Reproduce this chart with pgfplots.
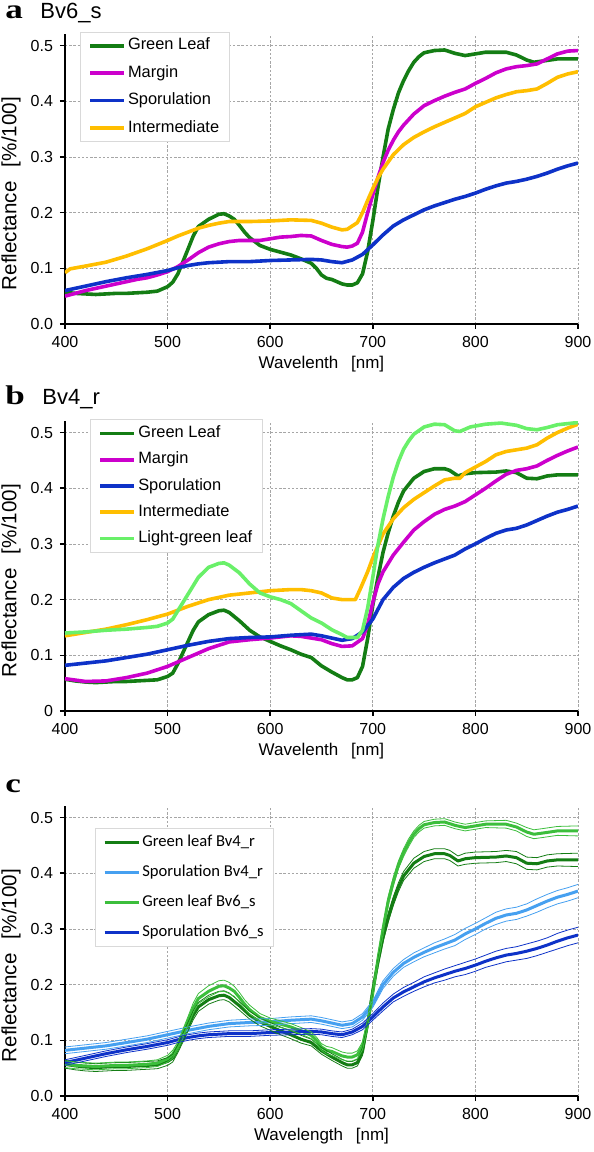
\documentclass[border=0pt]{standalone}
\usepackage{fontspec}
\setmainfont{Liberation Sans}
\newfontfamily\calibri{Carlito}
\newfontfamily\timesf{Liberation Serif}
\usepackage{graphicx}
\usepackage{pgfplots}
\usepackage{pgfplotstable}
\pgfplotsset{compat=1.18}

\definecolor{cGL}{RGB}{20,125,20}
\definecolor{cMA}{RGB}{204,0,204}
\definecolor{cSP}{RGB}{14,50,200}
\definecolor{cIN}{RGB}{255,190,0}
\definecolor{cLG}{RGB}{105,240,105}
\definecolor{cGL6}{RGB}{60,190,60}
\definecolor{cSP4}{RGB}{70,160,240}

\pgfplotstableread{
w m s
400 0.057 0.006
410 0.055 0.006
420 0.054 0.006
430 0.053 0.006
440 0.054 0.006
450 0.055 0.006
460 0.055 0.006
470 0.056 0.006
480 0.057 0.006
490 0.059 0.006
500 0.067 0.006
505 0.075 0.007
510 0.090 0.007
515 0.112 0.008
520 0.135 0.008
525 0.158 0.009
530 0.175 0.009
540 0.188 0.010
550 0.197 0.010
555 0.198 0.010
560 0.194 0.010
565 0.188 0.009
570 0.177 0.009
575 0.165 0.008
580 0.155 0.008
590 0.141 0.007
600 0.134 0.006
610 0.129 0.006
620 0.124 0.006
630 0.117 0.006
640 0.109 0.006
645 0.100 0.006
650 0.088 0.006
655 0.082 0.007
660 0.080 0.007
665 0.076 0.007
670 0.072 0.007
675 0.070 0.007
680 0.070 0.007
685 0.074 0.007
690 0.090 0.007
695 0.130 0.008
700 0.185 0.008
705 0.245 0.008
710 0.300 0.008
715 0.350 0.008
720 0.385 0.008
725 0.415 0.007
730 0.437 0.007
735 0.455 0.007
740 0.470 0.006
745 0.480 0.006
750 0.487 0.006
760 0.491 0.006
770 0.492 0.006
780 0.486 0.006
790 0.482 0.006
800 0.485 0.006
810 0.488 0.006
830 0.488 0.007
840 0.483 0.007
850 0.474 0.008
857 0.470 0.008
865 0.472 0.008
880 0.476 0.008
900 0.476 0.009
}\GLa

\pgfplotstableread{
w m
400 0.050
410 0.055
420 0.060
430 0.064
440 0.068
450 0.072
460 0.076
470 0.080
480 0.083
490 0.088
500 0.094
510 0.103
520 0.115
530 0.128
540 0.138
550 0.144
560 0.148
570 0.150
580 0.150
590 0.150
600 0.153
610 0.156
620 0.157
630 0.159
640 0.158
650 0.150
660 0.143
670 0.139
675 0.138
680 0.140
685 0.145
690 0.165
695 0.200
700 0.232
705 0.263
710 0.290
715 0.312
720 0.330
725 0.345
730 0.357
740 0.377
750 0.392
760 0.401
770 0.409
780 0.416
790 0.422
800 0.432
810 0.441
820 0.451
830 0.458
840 0.462
850 0.464
860 0.467
870 0.476
880 0.485
890 0.490
900 0.491
}\MAa

\pgfplotstableread{
w m s
400 0.060 0.005
420 0.068 0.005
440 0.076 0.005
460 0.083 0.005
480 0.089 0.005
500 0.096 0.005
510 0.101 0.005
520 0.105 0.005
530 0.108 0.005
540 0.110 0.005
560 0.112 0.005
580 0.112 0.005
600 0.114 0.005
620 0.115 0.005
640 0.116 0.005
650 0.115 0.005
660 0.112 0.005
670 0.110 0.005
680 0.115 0.005
690 0.125 0.006
700 0.142 0.006
710 0.160 0.007
720 0.176 0.007
730 0.187 0.008
740 0.196 0.008
750 0.205 0.009
760 0.212 0.009
770 0.218 0.010
780 0.224 0.010
790 0.229 0.011
800 0.235 0.011
810 0.242 0.011
820 0.248 0.012
830 0.253 0.012
840 0.256 0.012
850 0.260 0.013
860 0.265 0.013
870 0.271 0.013
880 0.278 0.014
890 0.284 0.014
900 0.289 0.014
}\SPa

\pgfplotstableread{
w m
400 0.092
405 0.099
420 0.104
440 0.111
460 0.122
480 0.135
500 0.150
510 0.158
520 0.165
530 0.172
540 0.177
550 0.181
560 0.184
580 0.184
600 0.185
620 0.187
640 0.186
650 0.181
660 0.174
670 0.169
675 0.170
680 0.176
685 0.182
690 0.200
695 0.222
700 0.243
705 0.262
710 0.278
720 0.304
730 0.322
740 0.335
750 0.345
760 0.354
770 0.362
780 0.370
790 0.378
800 0.390
810 0.398
820 0.406
830 0.412
840 0.417
850 0.419
860 0.422
870 0.432
880 0.443
890 0.449
900 0.453
}\INa

\pgfplotstableread{
w m s
400 0.057 0.007
410 0.054 0.007
420 0.052 0.007
430 0.051 0.007
440 0.052 0.007
450 0.053 0.007
460 0.053 0.007
470 0.054 0.007
480 0.055 0.007
490 0.056 0.007
500 0.062 0.007
505 0.068 0.007
510 0.085 0.007
515 0.105 0.008
520 0.125 0.008
525 0.145 0.008
530 0.160 0.008
540 0.173 0.008
550 0.180 0.008
555 0.181 0.008
560 0.177 0.008
570 0.162 0.008
580 0.145 0.007
590 0.133 0.007
600 0.125 0.007
610 0.117 0.007
620 0.110 0.007
630 0.102 0.007
640 0.096 0.006
650 0.081 0.006
660 0.070 0.006
670 0.060 0.006
675 0.056 0.006
680 0.056 0.006
685 0.060 0.006
690 0.080 0.007
695 0.130 0.007
700 0.190 0.008
705 0.240 0.008
710 0.285 0.008
715 0.320 0.008
720 0.350 0.008
725 0.375 0.008
730 0.395 0.008
740 0.418 0.009
750 0.430 0.009
760 0.435 0.009
770 0.435 0.009
775 0.432 0.009
783 0.422 0.009
790 0.426 0.010
800 0.428 0.010
820 0.429 0.010
830 0.431 0.010
840 0.428 0.011
850 0.418 0.011
860 0.417 0.011
870 0.422 0.011
880 0.424 0.011
900 0.424 0.012
}\GLb

\pgfplotstableread{
w m
400 0.140
420 0.142
440 0.145
460 0.147
480 0.150
490 0.152
500 0.158
505 0.165
510 0.180
520 0.210
530 0.240
540 0.258
550 0.265
555 0.266
560 0.262
570 0.248
580 0.228
590 0.212
600 0.205
610 0.200
620 0.193
630 0.180
640 0.167
650 0.158
660 0.146
670 0.137
675 0.132
685 0.132
690 0.145
695 0.185
700 0.240
705 0.298
710 0.345
715 0.385
720 0.420
725 0.448
730 0.470
735 0.485
740 0.497
750 0.510
760 0.515
770 0.514
780 0.503
785 0.502
795 0.510
810 0.515
825 0.517
840 0.513
850 0.507
860 0.505
870 0.509
880 0.514
900 0.518
}\LGb

\pgfplotstableread{
w m
400 0.135
420 0.141
440 0.147
460 0.155
480 0.164
500 0.174
520 0.188
540 0.200
560 0.208
580 0.212
600 0.216
620 0.218
630 0.218
640 0.216
650 0.212
660 0.203
670 0.200
683 0.200
688 0.220
695 0.250
700 0.275
710 0.318
720 0.345
730 0.365
740 0.380
750 0.392
760 0.404
770 0.415
780 0.418
785 0.418
790 0.428
800 0.438
810 0.448
820 0.460
830 0.466
840 0.469
850 0.472
860 0.478
870 0.490
880 0.500
890 0.508
900 0.515
}\INb

\pgfplotstableread{
w m
400 0.058
420 0.053
440 0.054
460 0.060
480 0.068
500 0.080
520 0.096
540 0.112
560 0.124
580 0.128
600 0.131
620 0.135
630 0.134
640 0.131
650 0.128
660 0.121
670 0.116
680 0.117
690 0.130
695 0.155
700 0.195
705 0.228
710 0.250
720 0.280
730 0.303
740 0.325
750 0.340
760 0.353
770 0.362
780 0.368
790 0.376
800 0.388
810 0.400
820 0.413
830 0.425
840 0.432
850 0.435
860 0.440
870 0.450
880 0.459
890 0.467
900 0.474
}\MAb

\pgfplotstableread{
w m s
400 0.082 0.006
420 0.086 0.006
440 0.090 0.006
460 0.096 0.006
480 0.102 0.006
500 0.110 0.006
520 0.118 0.006
540 0.125 0.006
560 0.130 0.006
580 0.132 0.006
600 0.133 0.006
620 0.136 0.006
640 0.138 0.006
650 0.135 0.006
660 0.131 0.006
670 0.127 0.006
680 0.130 0.006
690 0.142 0.006
700 0.165 0.006
710 0.200 0.007
720 0.222 0.007
730 0.238 0.007
740 0.249 0.008
750 0.258 0.008
760 0.266 0.009
770 0.273 0.009
780 0.280 0.010
790 0.291 0.010
800 0.300 0.010
810 0.310 0.010
820 0.319 0.011
830 0.325 0.011
840 0.328 0.011
850 0.334 0.011
860 0.342 0.012
870 0.350 0.012
880 0.357 0.012
890 0.362 0.012
900 0.368 0.012
}\SPb

\pgfplotsset{
  myax/.style={
    scale only axis, width=256.5pt, height=144.8pt,
    xmin=400, xmax=900, ymin=0, ymax=0.52,
    axis x line*=bottom, axis y line*=left,
    xtick={400,500,600,700,800,900},
    ytick={0,0.1,0.2,0.3,0.4,0.5},
    yticklabel style={/pgf/number format/.cd, fixed, fixed zerofill, precision=1},
    tick align=outside, major tick length=2.5pt,
    grid=major,
    grid style={dash pattern=on 1.2pt off 0.9pt, black!35, line width=0.35pt},
    axis line style={black, line width=0.75pt},
    tick style={black, line width=0.75pt},
    tick label style={font=\fontsize{8}{9.5}\selectfont},
    /pgf/number format/assume math mode=true,
    xlabel style={font=\fontsize{8.5}{10}\selectfont, at={(axis description cs:0.5,0)}, anchor=center, yshift=-20pt},
    ylabel style={font=\fontsize{10.3}{12}\selectfont, at={(axis description cs:0,0.45)}, anchor=center, yshift=27pt},
    ylabel={Reflectance\hspace{0.7em}[\%/100]},
    every axis plot/.append style={line width=1.8pt, line join=round},
    legend cell align=left,
    legend style={anchor=north west, draw=black!15, fill=white,
      font=\fontsize{8.2}{9.5}\selectfont, inner xsep=4pt, inner ysep=2pt,
      nodes={inner sep=1pt, text height=6pt, text depth=1.8pt}},
  }
}

\begin{document}
\begin{tikzpicture}
\path[use as bounding box] (0,0) rectangle (297pt,576pt);

% titles
\node[anchor=base west, inner sep=0pt] at (2.5pt,566.5pt) {\scalebox{1.3}[1]{\fontsize{13.5}{14}\selectfont\timesf\bfseries a}};
\node[anchor=base west, inner sep=0pt] at (20pt,566.5pt) {\fontsize{11}{13}\selectfont Bv6\_s};
\node[anchor=base west, inner sep=0pt] at (2.5pt,373.5pt) {\scalebox{1.3}[1]{\fontsize{13.5}{14}\selectfont\timesf\bfseries b}};
\node[anchor=base west, inner sep=0pt] at (21pt,373.5pt) {\fontsize{11}{13}\selectfont Bv4\_r};
\node[anchor=base west, inner sep=0pt] at (2.5pt,179.5pt) {\scalebox{1.3}[1]{\fontsize{13.5}{14}\selectfont\timesf\bfseries c}};

% panel a
\begin{axis}[myax, at={(32.5pt,414pt)}, anchor=south west,
  xlabel={Wavelenth\hspace{0.75em}[nm]},
  legend style={at={(axis description cs:0.029,1.01)}, row sep=3.9pt}]
\addplot[cGL] table[x=w,y=m] {\GLa};
\addlegendentry{Green Leaf}
\addplot[cMA] table[x=w,y=m] {\MAa};
\addlegendentry{Margin}
\addplot[cSP] table[x=w,y=m] {\SPa};
\addlegendentry{Sporulation}
\addplot[cIN] table[x=w,y=m] {\INa};
\addlegendentry{Intermediate}
\end{axis}

% panel b
\begin{axis}[myax, at={(32.5pt,220.5pt)}, anchor=south west,
  xlabel={Wavelenth\hspace{0.75em}[nm]},
  yticklabels={0,0.1,0.2,0.3,0.4,0.5},
  legend style={at={(axis description cs:0.049,1.007)}, row sep=3.3pt}]
\addplot[cGL] table[x=w,y=m] {\GLb};
\addlegendentry{Green Leaf}
\addplot[cMA] table[x=w,y=m] {\MAb};
\addlegendentry{Margin}
\addplot[cSP] table[x=w,y=m] {\SPb};
\addlegendentry{Sporulation}
\addplot[cIN] table[x=w,y=m] {\INb};
\addlegendentry{Intermediate}
\addplot[cLG] table[x=w,y=m] {\LGb};
\addlegendentry{Light-green leaf}
\end{axis}

% panel c
\begin{axis}[myax, at={(32.5pt,28pt)}, anchor=south west,
  xlabel={Wavelength\hspace{0.75em}[nm]},
  legend style={at={(axis description cs:0.058,0.924)}, row sep=5.2pt,
    font=\fontsize{8.3}{10}\selectfont\calibri}]
\addplot[cGL, line width=1.5pt] table[x=w,y=m] {\GLb};
\addlegendentry{Green leaf Bv4\_r}
\addplot[cSP4, line width=1.5pt] table[x=w,y=m] {\SPb};
\addlegendentry{Sporulation Bv4\_r}
\addplot[cGL6, line width=1.5pt] table[x=w,y=m] {\GLa};
\addlegendentry{Green leaf Bv6\_s}
\addplot[cSP, line width=1.5pt] table[x=w,y=m] {\SPa};
\addlegendentry{Sporulation Bv6\_s}
\addplot[cGL, line width=0.4pt, forget plot] table[x=w,y expr=\thisrow{m}+\thisrow{s}] {\GLb};
\addplot[cGL, line width=0.4pt, forget plot] table[x=w,y expr=\thisrow{m}-\thisrow{s}] {\GLb};
\addplot[cSP4, line width=0.4pt, forget plot] table[x=w,y expr=\thisrow{m}+\thisrow{s}] {\SPb};
\addplot[cSP4, line width=0.4pt, forget plot] table[x=w,y expr=\thisrow{m}-\thisrow{s}] {\SPb};
\addplot[cGL6, line width=0.4pt, forget plot] table[x=w,y expr=\thisrow{m}+\thisrow{s}] {\GLa};
\addplot[cGL6, line width=0.4pt, forget plot] table[x=w,y expr=\thisrow{m}-\thisrow{s}] {\GLa};
\addplot[cSP, line width=0.4pt, forget plot] table[x=w,y expr=\thisrow{m}+\thisrow{s}] {\SPa};
\addplot[cSP, line width=0.4pt, forget plot] table[x=w,y expr=\thisrow{m}-\thisrow{s}] {\SPa};
\end{axis}
\end{tikzpicture}
\end{document}
